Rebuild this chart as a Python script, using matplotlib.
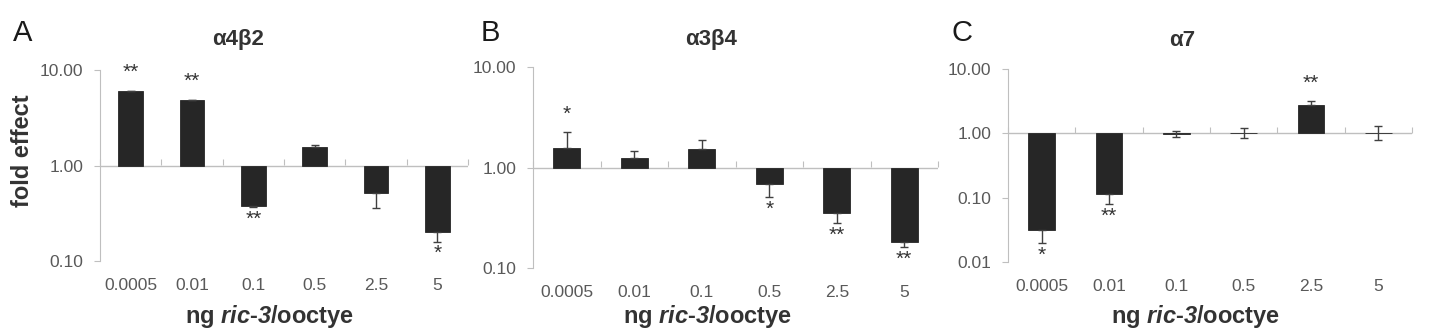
import numpy as np
import matplotlib
matplotlib.use("Agg")
import matplotlib.pyplot as plt

plt.rcParams['font.family'] = ['Liberation Sans', 'DejaVu Sans']
plt.rcParams['mathtext.fontset'] = 'custom'
plt.rcParams['mathtext.it'] = 'Liberation Sans:italic:bold'
plt.rcParams['mathtext.rm'] = 'Liberation Sans:italic:bold'

# --- data ---
doses = ["0.0005", "0.01", "0.1", "0.5", "2.5", "5"]

a4b2 = [6.0, 4.8, 0.38, 1.58, 0.52, 0.20]
a4b2_lo = [6.0, 4.8, 0.365, 1.58, 0.36, 0.16]
a4b2_hi = [6.1, 4.9, 0.38, 1.62, 0.52, 0.20]
a4b2_sig = ["**", "**", "**", "", "", "*"]

a3b4 = [1.58, 1.23, 1.52, 0.68, 0.35, 0.18]
a3b4_lo = [1.58, 1.23, 1.52, 0.51, 0.28, 0.16]
a3b4_hi = [2.26, 1.46, 1.87, 0.68, 0.35, 0.18]
a3b4_sig = ["*", "", "", "*", "**", "**"]

a7 = [0.031, 0.113, 0.99, 1.03, 2.72, 1.03]
a7_lo = [0.020, 0.080, 0.89, 0.85, 2.72, 0.79]
a7_hi = [0.031, 0.113, 1.10, 1.22, 3.2, 1.30]
a7_sig = ["*", "**", "", "", "**", ""]

panels = [
    ("A", "\u03b14\u03b22", a4b2, a4b2_lo, a4b2_hi, a4b2_sig, (0.1, 10)),
    ("B", "\u03b13\u03b24", a3b4, a3b4_lo, a3b4_hi, a3b4_sig, (0.1, 10)),
    ("C", "\u03b17", a7, a7_lo, a7_hi, a7_sig, (0.01, 10)),
]

W, H = 1434, 332
fig = plt.figure(figsize=(W / 100, H / 100), dpi=100)

# axes boxes in pixels: left, right, top, bottom
boxes = [(100, 468, 70, 261), (533, 938, 67, 268), (1008, 1412, 69, 262)]
letter_x = [23, 490, 962]
title_x = [238, 711, 1182]
xlabel_x = [270, 708, 1196]

grey = "#bfbfbf"
x = np.arange(len(doses))

for i, (letter, title, vals, lo, hi, sig, ylim) in enumerate(panels):
    l, r, t, b = boxes[i]
    ax = fig.add_axes([l / W, 1 - b / H, (r - l) / W, (b - t) / H])
    vals = np.array(vals)
    lo = np.array(lo)
    hi = np.array(hi)

    ax.set_yscale('log')
    ax.set_ylim(*ylim)
    ax.set_xlim(-0.5, len(doses) - 0.5)

    ax.bar(x, vals - 1, bottom=1, width=0.4, color='#262626',
           edgecolor='#262626', linewidth=0.6, zorder=3)
    ax.errorbar(x, vals, yerr=[vals - lo, hi - vals], fmt='none',
                ecolor='#404040', elinewidth=1, capsize=3, capthick=1, zorder=4)

    for xi, v, l_, h_, s in zip(x, vals, lo, hi, sig):
        if not s:
            continue
        if v >= 1:
            ax.annotate(s, (xi, h_), xytext=(0, 6), textcoords='offset points',
                        ha='center', va='bottom', fontsize=15, color='#333333')
        else:
            ax.annotate(s, (xi, l_), xytext=(0, -2), textcoords='offset points',
                        ha='center', va='top', fontsize=15, color='#333333')

    # baseline at 1 with category separators
    ax.axhline(1, color=grey, lw=1, zorder=2)
    pos = (0 - np.log10(ylim[0])) / (np.log10(ylim[1]) - np.log10(ylim[0]))
    sec = ax.secondary_xaxis(pos)
    sec.set_xticks(np.arange(len(doses) + 1) - 0.5)
    sec.tick_params(length=4, color=grey, labelbottom=False, labeltop=False)
    sec.spines['bottom'].set_visible(False)
    sec.spines['top'].set_visible(False)

    for s_ in ['top', 'right', 'bottom']:
        ax.spines[s_].set_visible(False)
    ax.spines['left'].set_color(grey)

    ax.set_yticks([10 ** k for k in range(int(np.log10(ylim[0])), 2)])
    ax.yaxis.set_minor_locator(matplotlib.ticker.NullLocator())
    ax.yaxis.set_major_formatter(matplotlib.ticker.FormatStrFormatter('%.2f'))
    ax.tick_params(axis='y', length=4, color=grey, pad=8, labelsize=12.5,
                   labelcolor='#595959')
    ax.set_xticks(x)
    ax.set_xticklabels(doses)
    ax.tick_params(axis='x', length=0, pad=12, labelsize=12.5, labelcolor='#595959')
    ax.patch.set_visible(False)

    fig.text(letter_x[i] / W, 1 - 33 / H, letter, fontsize=21, ha='center',
             va='center', color='#1a1a1a')
    fig.text(title_x[i] / W, 1 - 40 / H, title, fontsize=16, fontweight='bold',
             ha='center', va='center', color='#333333')
    fig.text(xlabel_x[i] / W, 1 - 317 / H, r"ng $\mathrm{ric}$-$\mathrm{3}$/ooctye",
             fontsize=17, fontweight='bold', ha='center', va='center',
             color='#333333')

fig.text(23 / W, 1 - 151 / H, "fold effect", rotation=90, fontsize=17,
         fontweight='bold', ha='center', va='center', color='#333333')

fig.savefig("out.png", dpi=100)
